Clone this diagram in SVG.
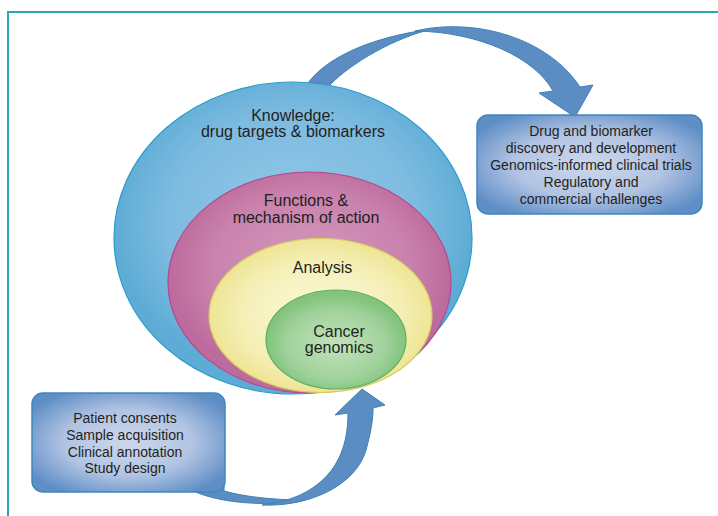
<svg xmlns="http://www.w3.org/2000/svg" width="718" height="516" viewBox="0 0 718 516">
  <defs>
    <radialGradient id="gBlue" cx="0.5" cy="0.45" r="0.5">
      <stop offset="0" stop-color="#93c8e6"/>
      <stop offset="0.7" stop-color="#7dbbe0"/>
      <stop offset="1" stop-color="#5eacd6"/>
    </radialGradient>
    <radialGradient id="gMagenta" cx="0.5" cy="0.45" r="0.5">
      <stop offset="0" stop-color="#d39bbd"/>
      <stop offset="0.7" stop-color="#c982ad"/>
      <stop offset="1" stop-color="#bd6a9c"/>
    </radialGradient>
    <radialGradient id="gYellow" cx="0.5" cy="0.5" r="0.5">
      <stop offset="0" stop-color="#fcfadf"/>
      <stop offset="0.7" stop-color="#f5efb6"/>
      <stop offset="1" stop-color="#eee596"/>
    </radialGradient>
    <radialGradient id="gGreen" cx="0.5" cy="0.55" r="0.5">
      <stop offset="0" stop-color="#c3e2bd"/>
      <stop offset="0.7" stop-color="#a0d29b"/>
      <stop offset="1" stop-color="#82c47d"/>
    </radialGradient>
    <radialGradient id="gBox" cx="0.5" cy="0.5" r="0.6">
      <stop offset="0" stop-color="#ccd7ec"/>
      <stop offset="0.55" stop-color="#b2c4e3"/>
      <stop offset="1" stop-color="#5e8ec6"/>
    </radialGradient>
  </defs>
  <style>
    .frame { fill: none; stroke: #2aa7b9; stroke-width: 2; }
    .arrow { fill: #5b8cc2; stroke: #3b82b8; stroke-width: 1; stroke-linejoin: round; }
    .box { fill: url(#gBox); stroke: #3f87bd; stroke-width: 1.5; }
    text { font-family: "Liberation Sans", Arial, sans-serif; fill: #231f20; text-anchor: middle; }
    .big { font-size: 16px; }
    .small { font-size: 14px; }
  </style>

  <!-- panel frame -->
  <path class="frame" d="M8,516 V12 H718"/>

  <!-- curved ribbon arrows -->
  <g id="connectors">
    <!-- upper arrow: knowledge to development box -->
    <path class="arrow" d="M308,90 L308,83 C325,60 365,38 432,29 C395,38 352,62 330,85 L330,92 Z"/>
    <path class="arrow" d="M415,31 C475,17 548,38 580,87 L593,85 L575,117 L539,93 L553,91 C535,58 480,32 415,31 Z"/>
    <!-- lower arrow: sample box to cancer genomics -->
    <path class="arrow" d="M193,484 L193,491 C220,503 265,507 305,500 C275,500 245,497 224,491 L224,484 Z"/>
    <path class="arrow" d="M262,505 C310,507 356,485 366,450 C371,432 373,420 373,408 L385,405 L362,389 L335,415 L348,413 C348,445 338,468 318,484 C303,496 285,502 262,505 Z"/>
  </g>

  <g id="knowledge">
    <ellipse cx="293" cy="238" rx="179" ry="156" fill="url(#gBlue)" stroke="#2b9ccc" stroke-width="1.2"/>
    <text class="big" x="293" y="121">Knowledge:</text>
    <text class="big" x="293" y="137">drug targets &amp; biomarkers</text>
  </g>

  <g id="functions">
    <ellipse cx="309.5" cy="282.5" rx="141.5" ry="110.5" fill="url(#gMagenta)" stroke="#b4478d" stroke-width="1.2"/>
    <text class="big" x="306" y="206">Functions &amp;</text>
    <text class="big" x="306" y="223">mechanism of action</text>
  </g>

  <g id="analysis">
    <ellipse cx="320.5" cy="315.5" rx="111.5" ry="77" fill="url(#gYellow)" stroke="#d8cd60" stroke-width="1.2"/>
    <text class="big" x="322.5" y="273">Analysis</text>
  </g>

  <g id="cancer-genomics">
    <ellipse cx="336" cy="339.5" rx="70" ry="49.5" fill="url(#gGreen)" stroke="#5eaf5e" stroke-width="1.2"/>
    <text class="big" x="339" y="337">Cancer</text>
    <text class="big" x="339" y="353">genomics</text>
  </g>

  <g id="development">
    <rect class="box" x="477" y="115" width="225" height="99" rx="11" ry="11"/>
    <text class="small" x="591" y="136">Drug and biomarker</text>
    <text class="small" x="591" y="153">discovery and development</text>
    <text class="small" x="591" y="170">Genomics-informed clinical trials</text>
    <text class="small" x="591" y="187">Regulatory and</text>
    <text class="small" x="591" y="204">commercial challenges</text>
  </g>

  <g id="samples">
    <rect class="box" x="32" y="393" width="193" height="99" rx="11" ry="11"/>
    <text class="small" x="125" y="423">Patient consents</text>
    <text class="small" x="125" y="440">Sample acquisition</text>
    <text class="small" x="125" y="457">Clinical annotation</text>
    <text class="small" x="125" y="473">Study design</text>
  </g>
</svg>
